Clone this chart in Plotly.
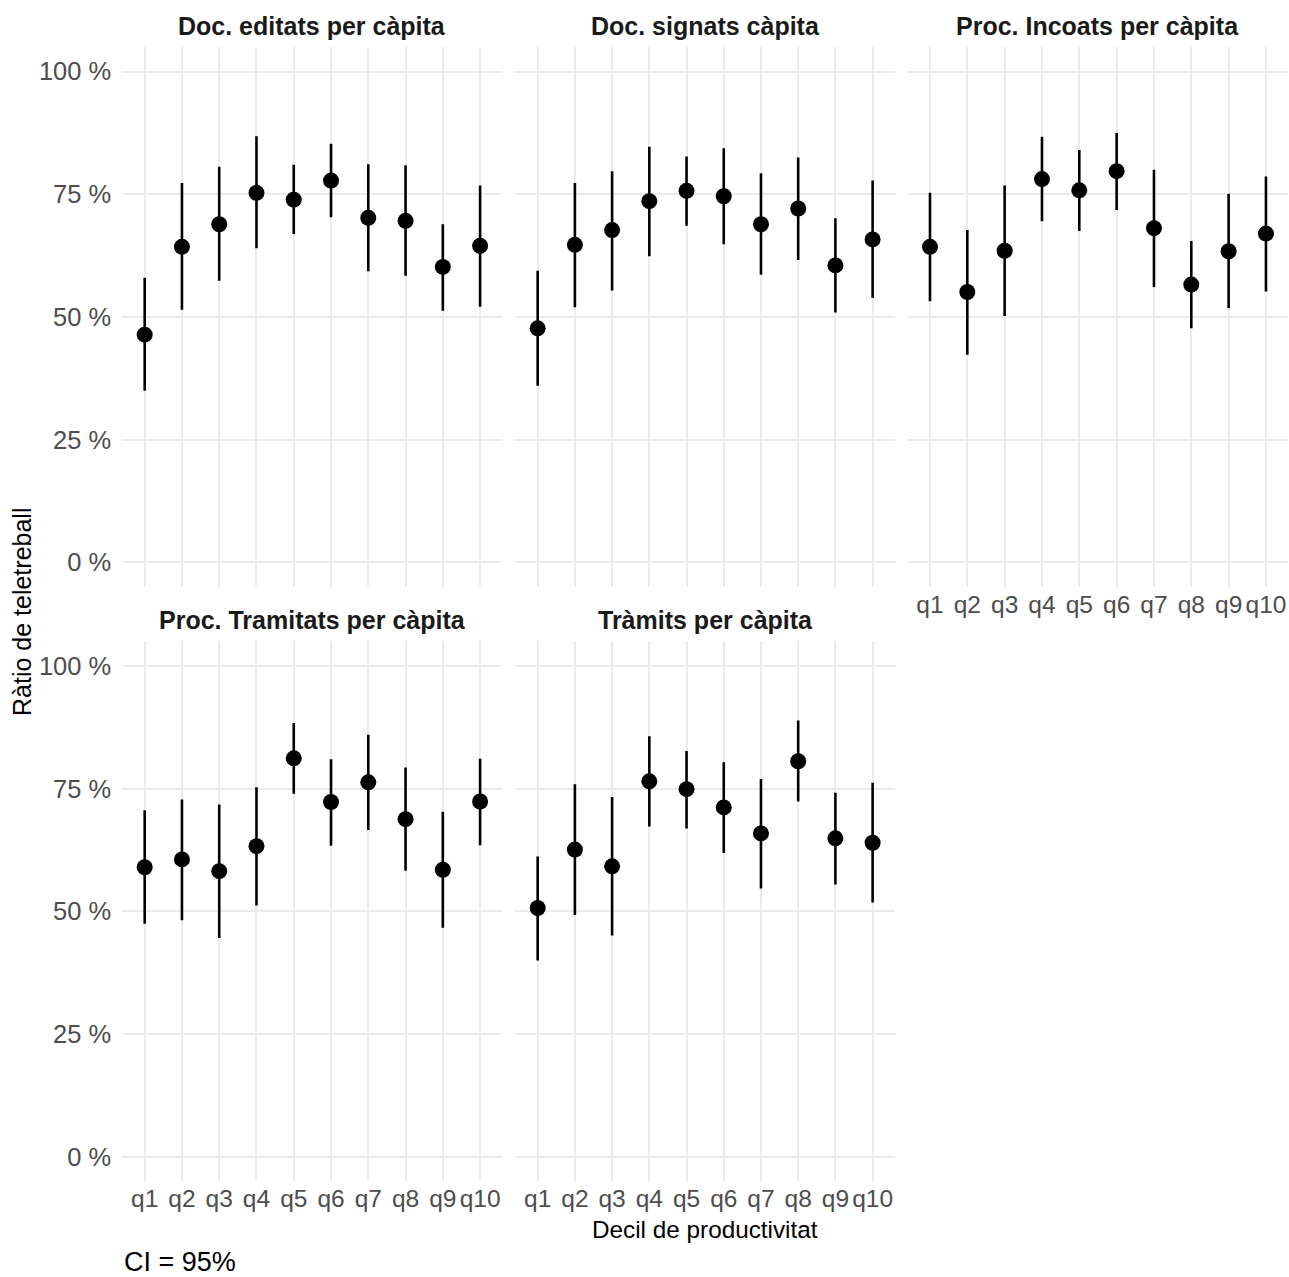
import plotly.graph_objects as go

# Productivity deciles (x categories)
deciles = ["q1", "q2", "q3", "q4", "q5", "q6", "q7", "q8", "q9", "q10"]

panel_titles = [
    "Doc. editats per càpita",
    "Doc. signats càpita",
    "Proc. Incoats per càpita",
    "Proc. Tramitats per càpita",
    "Tràmits per càpita",
]

# Telework ratio (%) with 95% CI, one set of arrays per indicator
doc_editats_est = [46.4, 64.3, 68.9, 75.3, 73.9, 77.8, 70.2, 69.6, 60.2, 64.5]
doc_editats_lo = [35.0, 51.5, 57.4, 64.0, 66.9, 70.3, 59.3, 58.4, 51.3, 52.1]
doc_editats_hi = [58.0, 77.3, 80.6, 86.8, 81.0, 85.3, 81.1, 80.9, 68.9, 76.8]

doc_signats_est = [47.7, 64.7, 67.7, 73.6, 75.7, 74.6, 68.9, 72.1, 60.5, 65.8]
doc_signats_lo = [36.0, 52.0, 55.4, 62.4, 68.6, 64.8, 58.6, 61.6, 50.9, 53.9]
doc_signats_hi = [59.4, 77.3, 79.7, 84.7, 82.7, 84.4, 79.3, 82.5, 70.1, 77.8]

proc_incoats_est = [64.3, 55.1, 63.5, 78.1, 75.8, 79.7, 68.1, 56.6, 63.4, 67.0]
proc_incoats_lo = [53.2, 42.3, 50.2, 69.5, 67.5, 71.8, 56.1, 47.7, 51.8, 55.2]
proc_incoats_hi = [75.3, 67.7, 76.8, 86.7, 84.0, 87.5, 80.0, 65.5, 75.1, 78.6]

proc_tramitats_est = [59.0, 60.6, 58.2, 63.3, 81.2, 72.3, 76.3, 68.8, 58.5, 72.4]
proc_tramitats_lo = [47.5, 48.2, 44.6, 51.2, 74.0, 63.4, 66.6, 58.3, 46.7, 63.5]
proc_tramitats_hi = [70.6, 72.8, 71.8, 75.3, 88.4, 81.0, 86.0, 79.3, 70.3, 81.1]

tramits_est = [50.7, 62.6, 59.2, 76.5, 74.9, 71.2, 65.9, 80.6, 64.9, 64.0]
tramits_lo = [40.0, 49.3, 45.1, 67.3, 66.9, 61.9, 54.7, 72.4, 55.5, 51.8]
tramits_hi = [61.2, 75.9, 73.3, 85.7, 82.7, 80.4, 77.0, 88.9, 74.2, 76.2]

y_ticks = [0, 25, 50, 75, 100]
y_tick_labels = ["0 %", "25 %", "50 %", "75 %", "100 %"]

panels = [
    (doc_editats_est, doc_editats_lo, doc_editats_hi),
    (doc_signats_est, doc_signats_lo, doc_signats_hi),
    (proc_incoats_est, proc_incoats_lo, proc_incoats_hi),
    (proc_tramitats_est, proc_tramitats_lo, proc_tramitats_hi),
    (tramits_est, tramits_lo, tramits_hi),
]

# Facet grid geometry (paper fractions)
x_domains = [[0.0949, 0.3898], [0.3998, 0.6943], [0.7041, 0.9995],
             [0.0949, 0.3898], [0.3998, 0.6943]]
y_domains = [[0.5403, 0.9632]] * 3 + [[0.0748, 0.4977]] * 2
show_x_labels = [False, False, True, True, True]
show_y_labels = [True, False, False, True, False]

FONT = "Liberation Sans"
GRID = "#EBEBEB"
TICK_COLOR = "#4D4D4D"

fig = go.Figure()
layout_axes = {}

for i, (est, lo, hi) in enumerate(panels):
    n = "" if i == 0 else str(i + 1)
    fig.add_trace(go.Scatter(
        x=deciles,
        y=est,
        mode="markers",
        marker=dict(color="black", size=16),
        error_y=dict(
            type="data",
            symmetric=False,
            array=[h - e for h, e in zip(hi, est)],
            arrayminus=[e - l for e, l in zip(est, lo)],
            color="black",
            thickness=2.6,
            width=0,
        ),
        xaxis="x" + n,
        yaxis="y" + n,
        showlegend=False,
        hoverinfo="skip",
    ))
    layout_axes["xaxis" + n] = dict(
        domain=x_domains[i],
        anchor="y" + n,
        type="category",
        categoryorder="array",
        categoryarray=deciles,
        range=[-0.6, 9.6],
        showgrid=True,
        gridcolor=GRID,
        gridwidth=1.6,
        zeroline=False,
        showline=False,
        ticks="",
        showticklabels=show_x_labels[i],
        tickfont=dict(family=FONT, size=24.5, color=TICK_COLOR),
        fixedrange=True,
    )
    layout_axes["yaxis" + n] = dict(
        domain=y_domains[i],
        anchor="x" + n,
        range=[-5, 105],
        tickmode="array",
        tickvals=y_ticks,
        ticktext=y_tick_labels,
        showgrid=True,
        gridcolor=GRID,
        gridwidth=1.6,
        zeroline=False,
        showline=False,
        ticks="outside",
        ticklen=5,
        tickcolor="rgba(0,0,0,0)",
        showticklabels=show_y_labels[i],
        tickfont=dict(family=FONT, size=25.5, color=TICK_COLOR),
        fixedrange=True,
    )

W, H = 1289, 1277
annotations = []
for i, title in enumerate(panel_titles):
    cx = (x_domains[i][0] + x_domains[i][1]) / 2
    cy = 1 - (26 if i < 3 else 620) / H
    annotations.append(dict(
        text="<b>" + title + "</b>", x=cx, y=cy, xref="paper", yref="paper",
        xanchor="center", yanchor="middle", showarrow=False,
        font=dict(family=FONT, size=25, color="#1A1A1A"),
    ))

annotations.append(dict(
    text="Ràtio de teletreball", x=22 / W, y=1 - 612 / H, xref="paper", yref="paper",
    xanchor="center", yanchor="middle", textangle=-90, showarrow=False,
    font=dict(family=FONT, size=25, color="black"),
))
annotations.append(dict(
    text="Decil de productivitat", x=705 / W, y=1 - 1229 / H, xref="paper", yref="paper",
    xanchor="center", yanchor="middle", showarrow=False,
    font=dict(family=FONT, size=24.3, color="black"),
))
annotations.append(dict(
    text="CI = 95%", x=123 / W, y=1 - 1262 / H, xref="paper", yref="paper",
    xanchor="left", yanchor="middle", showarrow=False, borderpad=0,
    font=dict(family=FONT, size=27, color="black"),
))

fig.update_layout(
    width=W,
    height=H,
    margin=dict(l=0, r=0, t=0, b=0),
    paper_bgcolor="white",
    plot_bgcolor="white",
    annotations=annotations,
    **layout_axes,
)

fig.write_html("out.html", config={"displayModeBar": False})
